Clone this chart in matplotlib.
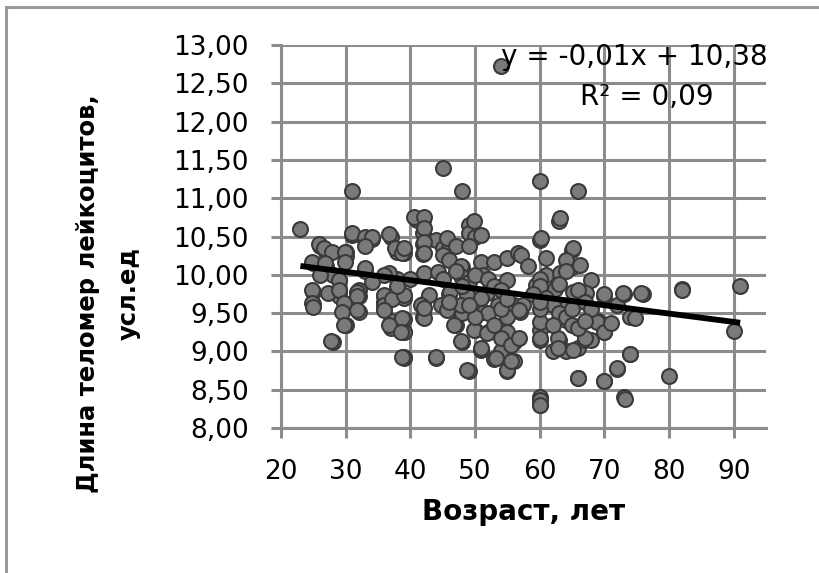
import matplotlib
matplotlib.use("Agg")
import matplotlib.pyplot as plt
from matplotlib.lines import Line2D

# возраст (лет) и длина теломер (усл. ед)
age = [23, 25, 25, 25, 26, 27, 27, 28, 28, 29, 29, 30, 30, 30, 30, 31, 31,
       32, 32, 32, 33, 34, 33, 36, 36, 37, 37, 36, 37, 38, 39, 39, 39, 39, 38,
       39, 41, 42, 42, 42, 42, 42, 42, 44, 45, 45, 46, 44, 46, 47, 47, 48, 48,
       48, 48, 49, 49, 50, 49, 50, 50, 51, 52, 53, 54, 54, 55, 56, 56, 55, 57,
       60, 60, 60, 60, 60, 60, 63, 62, 63, 64, 65, 66, 65, 66, 66, 67, 68, 69,
       70, 70, 70, 72, 72, 73, 73, 74, 74, 76, 80, 82, 82, 90, 91,
       30.9, 33.0, 34.1, 36.7, 25.8, 26.7, 27.9, 29.9, 33.0, 37.7, 38.7, 24.8,
       26.8, 29.9, 33.0, 36.7, 26.1, 28.9, 24.8, 27.3, 28.9, 31.8, 24.8, 29.7,
       31.8, 35.9, 35.9, 37.2,
       40.5, 42.1, 42.1, 49.9, 50.9, 42.1, 45.7, 47.0, 49.1, 39.0, 42.1, 45.0,
       46.0, 47.8, 50.9, 53.0, 55.0, 56.6, 42.1, 44.2, 47.8, 51.2, 55.0, 42.9,
       46.2, 48.8, 51.9, 39.0, 41.6, 44.7, 47.8, 50.4, 53.5, 56.1,
       63.1, 60.2, 65.1, 57.1, 58.2, 61.0, 64.1, 66.2, 61.0, 63.1, 68.0, 59.4,
       62.3, 65.1, 67.2, 70.0, 72.9, 75.7, 57.4, 64.1,
       42.1, 39.0, 45.7, 46.8, 47.8, 49.9, 51.9, 50.9, 54.0, 53.2, 55.0, 55.6,
       43.9, 48.8, 39.0, 42.1, 55.0, 51.4, 55.6,
       60.0, 60.0, 62.8, 62.8, 65.1, 67.0, 68.8, 70.0, 71.1, 74.7, 64.1, 56.8,
       73.9, 71.9, 65.9, 69.9, 73.2, 60.1, 60.1, 56.8,
       25.0, 29.4, 31.8, 29.8, 27.8, 35.9, 36.7, 38.7, 38.7, 38.5,
       60, 60, 61, 62, 63, 64, 65, 66, 67, 68, 63, 64, 59, 62, 65, 66, 67, 60, 60,
       45, 47, 49, 50, 52, 53, 54, 46, 48, 51, 52, 53, 54, 55, 50, 49,
       36, 38, 40, 34]
tl = [10.60, 10.15, 9.78, 9.62, 10.38, 10.30, 10.12, 10.00, 9.12, 9.72, 9.80,
      10.30, 10.25, 9.62, 9.35, 11.10, 10.52, 9.52, 9.72, 9.80, 10.45, 10.47,
      10.05, 9.65, 9.55, 9.30, 9.40, 9.72, 10.50, 10.30, 10.28, 9.42, 9.25,
      8.92, 9.95, 9.70, 10.72, 10.72, 10.55, 10.40, 10.27, 9.62, 9.45, 10.45,
      11.40, 10.35, 10.35, 8.92, 9.75, 9.55, 9.35, 9.12, 9.50, 11.10, 10.10,
      10.65, 10.55, 10.50, 8.75, 9.55, 9.28, 9.02, 9.25, 8.90, 9.00, 12.73,
      8.75, 8.87, 9.12, 9.25, 9.52, 11.22, 10.45, 8.40, 8.30, 9.15, 9.28,
      10.70, 9.00, 9.15, 9.00, 10.33, 11.10, 10.10, 8.65, 9.05, 9.15, 9.15,
      9.40, 9.72, 9.25, 8.62, 9.60, 8.77, 9.75, 8.40, 8.97, 9.45, 9.75, 8.68,
      9.82, 9.80, 9.27, 9.85,
      10.55, 10.50, 10.49, 10.53, 10.40, 10.35, 10.30, 10.30, 10.37, 10.35,
      10.28, 10.17, 10.15, 10.17, 10.09, 10.02, 10.00, 9.93, 9.80, 9.76, 9.80,
      9.78, 9.63, 9.63, 9.72, 9.74, 9.61, 9.69,
      10.76, 10.76, 10.61, 10.70, 10.52, 10.43, 10.48, 10.37, 10.37, 10.35,
      10.28, 10.26, 10.19, 10.11, 10.17, 10.17, 10.22, 10.28, 10.02, 10.04,
      9.98, 10.00, 9.93, 9.74, 9.78, 9.74, 9.76, 9.74, 9.61, 9.61, 9.61, 9.61,
      9.61, 9.61,
      10.74, 10.48, 10.35, 10.26, 10.11, 10.22, 10.19, 10.13, 10.00, 10.02,
      9.93, 9.87, 9.82, 9.78, 9.76, 9.75, 9.76, 9.76, 9.61, 9.58,
      9.43, 9.26, 9.54, 9.35, 9.13, 9.28, 9.24, 9.04, 9.17, 8.91, 8.76, 8.87,
      8.93, 8.76, 8.93, 9.57, 9.45, 9.51, 9.08,
      9.39, 9.17, 9.17, 9.04, 9.02, 9.17, 9.39, 9.26, 9.37, 9.43, 9.41, 9.17,
      8.97, 8.78, 8.65, 8.61, 8.38, 8.37, 8.30, 9.54,
      9.58, 9.52, 9.54, 9.34, 9.14, 9.54, 9.35, 9.43, 8.93, 9.26,
      9.95, 9.85, 9.70, 9.60, 9.50, 9.45, 9.55, 9.80, 9.65, 9.55, 9.88, 10.05,
      9.75, 9.35, 9.35, 9.30, 9.40, 9.55, 9.65,
      9.95, 10.05, 9.90, 10.00, 9.95, 9.85, 9.80, 9.65, 9.85, 9.70, 9.50, 9.35,
      9.55, 9.68, 9.45, 9.60,
      10.00, 9.85, 9.95, 9.90]

# линия тренда Excel
trend_k = -0.0109
trend_b = 10.366

fig = plt.figure(figsize=(8.2, 5.73), dpi=100)
ax = fig.add_axes([0.3427, 0.253, 0.5915, 0.6685])

ax.scatter(age, tl, s=115, c='#7a7a7a', edgecolors='#3a3a3a',
           linewidths=1.5, zorder=3)
x0, x1 = min(age), max(age)
ax.plot([x0, x1], [trend_k * x0 + trend_b, trend_k * x1 + trend_b],
        color='black', lw=4.2, zorder=4, solid_capstyle='butt')

ax.set_xlim(20, 95)
ax.set_ylim(8, 13)
ax.set_xticks(range(20, 91, 10))
ax.set_yticks([8 + 0.5 * i for i in range(11)])
ax.set_yticklabels([("%.2f" % (8 + 0.5 * i)).replace('.', ',') for i in range(11)])
ax.grid(True, color='#8c8c8c', lw=2.2, zorder=0)
ax.set_axisbelow(True)
for s in ['top', 'right']:
  ax.spines[s].set_visible(False)
for s in ['left', 'bottom']:
  ax.spines[s].set_color('#8c8c8c')
  ax.spines[s].set_linewidth(2.2)
ax.tick_params(axis='both', colors='#8c8c8c', length=7, width=2.2,
               labelcolor='black', labelsize=19)
ax.tick_params(axis='x', pad=15)
ax.tick_params(axis='y', pad=16)

ax.set_xlabel('Возраст, лет', fontsize=20, fontweight='bold', labelpad=10)
ax.set_ylabel('Длина теломер лейкоцитов,\nусл.ед', fontsize=17.5,
              fontweight='bold', linespacing=1.9)
ax.yaxis.set_label_coords(-0.289, 0.352)

ax.text(54.0, 12.84, 'y = -0,01x + 10,38', fontsize=20, va='center', ha='left')
ax.text(76.5, 12.32, 'R² = 0,09', fontsize=20, va='center', ha='center')

fig.add_artist(Line2D([0.0073, 1.0], [0.988, 0.988], color='#999999', lw=2.2,
                      transform=fig.transFigure))
fig.add_artist(Line2D([0.0073, 0.0073], [0.0, 0.988], color='#999999', lw=2.2,
                      transform=fig.transFigure))

fig.savefig('out.png', dpi=100)
